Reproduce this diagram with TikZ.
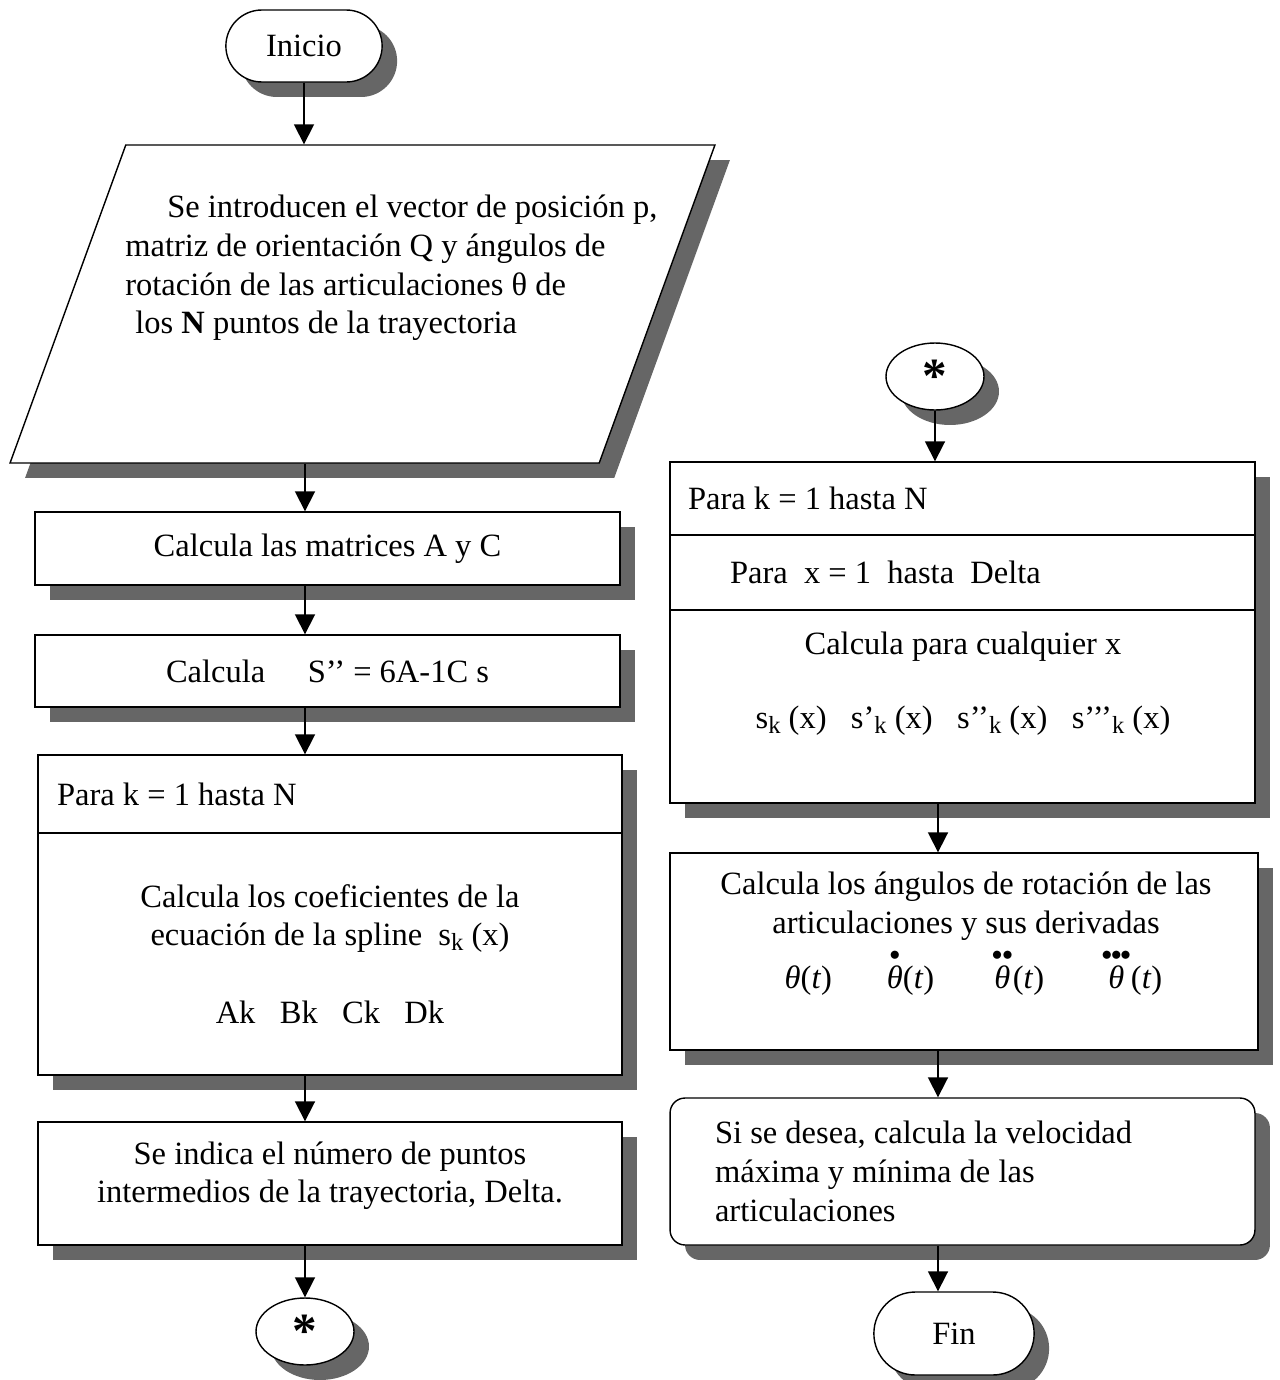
\documentclass[tikz,border=0pt]{standalone}
\usepackage{fontspec}
\setmainfont{Liberation Serif}
\usepackage{amsmath}
\usepackage{tikz}
\usetikzlibrary{positioning,shapes.geometric,shapes.misc,shadows,arrows.meta}

\newcommand{\subk}{\raisebox{-0.3ex}{\fontsize{14}{14}\selectfont k}}
\newcommand{\thetader}[1]{$\overset{#1}{\textit{θ}}$(\textit{t})}
\newcommand{\estrella}{\raisebox{-0.7ex}{\fontsize{28}{28}\selectfont\bfseries *}}

\begin{document}
\begin{tikzpicture}[x=0.02cm, y=-0.02cm,
    every node/.style={font=\fontsize{18.5}{22}\selectfont, align=center},
    sombra/.style={drop shadow={shadow xshift=0.3cm, shadow yshift=-0.3cm, fill=black!60, opacity=1}},
    caja/.style={draw, thick, fill=white, rectangle, inner sep=0pt, sombra},
    cabecera/.style={caja, align=flush left},
    terminal/.style={draw, thick, fill=white, rounded rectangle, sombra},
    conector/.style={draw, thick, fill=white, ellipse, inner sep=0pt, minimum width=1.96cm, minimum height=1.34cm, sombra},
    datos/.style={draw, thick, fill=white, trapezium, trapezium left angle=70, trapezium right angle=110,
        trapezium stretches body, inner xsep=0pt, inner ysep=3.18cm, minimum width=14.1cm, sombra},
    texto/.style={inner sep=0pt},
    flecha/.style={-{Triangle[width=0.4cm,length=0.4cm]}, line width=1pt}]
    \useasboundingbox (0,0) rectangle (1280,1380);

    % columna izquierda
    \node[terminal, minimum width=3.36cm, minimum height=1.44cm] (inicio) at (304,46) {Inicio};
    \node[datos] (entrada) at (362.5,304) {};
    \node[texto, anchor=north west, align=left] (entradatxt) at (125,195)
        {\hspace{0.84cm}Se introducen el vector de posición p,\\matriz de orientación Q y ángulos de\\rotación de las articulaciones θ de\\\hspace{0.2cm}los \textbf{N} puntos de la trayectoria};
    \node[caja, minimum width=11.7cm, minimum height=1.46cm] (calcAC) at (327.5,548.5) {Calcula las matrices A y C};
    \node[caja, minimum width=11.7cm, minimum height=1.44cm] (calcS) at (327.5,671) {Calcula\hspace{0.85cm}S’’ = 6A-1C s};
    \node[cabecera, text width=10.92cm, inner xsep=0.38cm, minimum height=1.56cm] (paraK) at (330,794) {Para k = 1 hasta N};
    \node[caja, minimum width=11.68cm, minimum height=4.84cm] (coefs) at (330,954)
        {Calcula los coeficientes de la\\ecuación de la spline\ \ s\subk\ (x)\\[22pt]Ak\ \ \ Bk\ \ \ Ck\ \ \ Dk};
    \node[caja, minimum width=11.68cm, minimum height=2.46cm] (delta) at (330,1183.5)
        {Se indica el número de puntos\\intermedios de la trayectoria, Delta.\\[-9pt]};
    \node[conector] (conA) at (305,1331.5) {\estrella};

    % columna derecha
    \node[conector] (conB) at (935,376.5) {\estrella};
    \node[cabecera, text width=10.98cm, inner xsep=0.36cm, minimum height=1.46cm] (paraKb) at (962.5,498.5) {Para k = 1 hasta N};
    \node[cabecera, text width=9.3cm, inner xsep=1.2cm, minimum height=1.5cm] (paraX) at (962.5,572.5) {Para\ \ x = 1\ \ hasta\ \ Delta};
    \node[caja, minimum width=11.7cm, minimum height=3.86cm] (calcX) at (962.5,706.5) {};
    \node[texto, anchor=north] (calcXtxt) at (963,632)
        {Calcula para cualquier x\\[20pt]s\subk\ (x)\ \ \ s’\subk\ (x)\ \ \ s’’\subk\ (x)\ \ \ s’’’\subk\ (x)};
    \node[caja, minimum width=11.76cm, minimum height=3.94cm] (angulos) at (964,951.5) {};
    \node[texto, anchor=north] (angulostxt) at (966,872)
        {Calcula los ángulos de rotación de las\\articulaciones y sus derivadas\\[3pt]
        \hspace{0.3cm}\thetader{}\hspace{1.1cm}\thetader{\bullet}\hspace{1.15cm}\thetader{\bullet\bullet}\hspace{1.15cm}\thetader{\bullet\mkern-1mu\bullet\mkern-1mu\bullet}};
    \node[caja, rounded corners=0.3cm, align=flush left, text width=9.9cm, inner xsep=0.9cm, minimum height=2.94cm] (veloc) at (962.5,1171.5)
        {Si se desea, calcula la velocidad\\máxima y mínima de las\\articulaciones};
    \node[terminal, minimum width=3.44cm, minimum height=1.66cm] (fin) at (954,1333.5) {Fin};

    % flechas
    \coordinate (colA) at (305,0);
    \coordinate (colB) at (938,0);
    \draw[flecha] (inicio.south) -- (inicio.south |- entrada.north);
    \draw[flecha] (colA |- entrada.south) -- (colA |- calcAC.north);
    \draw[flecha] (colA |- calcAC.south) -- (colA |- calcS.north);
    \draw[flecha] (colA |- calcS.south) -- (colA |- paraK.north);
    \draw[flecha] (colA |- coefs.south) -- (colA |- delta.north);
    \draw[flecha] (colA |- delta.south) -- (conA.north);
    \draw[flecha] (conB.south) -- (conB.south |- paraKb.north);
    \draw[flecha] (colB |- calcX.south) -- (colB |- angulos.north);
    \draw[flecha] (colB |- angulos.south) -- (colB |- veloc.north);
    \draw[flecha] (colB |- veloc.south) -- (colB |- fin.north);
\end{tikzpicture}
\end{document}
